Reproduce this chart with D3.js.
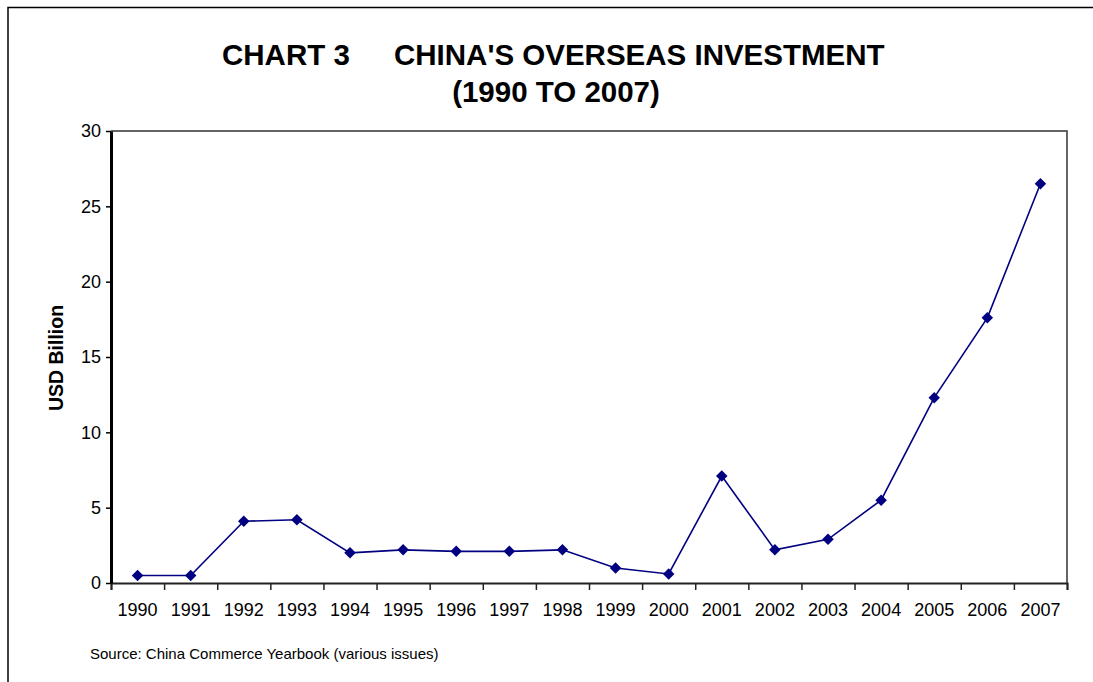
<!DOCTYPE html>
<html>
<head>
<meta charset="utf-8">
<script src="https://cdn.jsdelivr.net/npm/d3@7"></script>
<style>
	body { margin: 0; background: #fff; overflow: hidden; }
	svg { display: block; font-family: "Liberation Sans", Arial, sans-serif; }
</style>
</head>
<body>
<svg id="chart" width="1093" height="682"></svg>
<script>
// data
var years = ["1990", "1991", "1992", "1993", "1994", "1995", "1996", "1997", "1998",
	"1999", "2000", "2001", "2002", "2003", "2004", "2005", "2006", "2007"];
var investment = [0.5, 0.5, 4.1, 4.2, 2.0, 2.2, 2.1, 2.1, 2.2,
	1.0, 0.6, 7.1, 2.2, 2.9, 5.5, 12.3, 17.6, 26.5];
var yTicks = [0, 5, 10, 15, 20, 25, 30];

function drawChart() {
	var svg = d3.select("#chart");
	var plot = {left: 111, top: 131, right: 1067, bottom: 583};

	// outer frame, only top and left show in the picture
	svg.append("path")
		.attr("d", "M8,700V7.5H1100")
		.attr("fill", "none").attr("stroke", "#000").attr("stroke-width", 1.5);

	// title
	var title = svg.append("g").attr("font-weight", "bold").attr("font-size", 29.5).attr("fill", "#000");
	title.append("text").attr("x", 222).attr("y", 65).text("CHART 3");
	title.append("text").attr("x", 394).attr("y", 65).text("CHINA'S OVERSEAS INVESTMENT");
	title.append("text").attr("x", 556).attr("y", 102).attr("text-anchor", "middle").text("(1990 TO 2007)");

	var x = d3.scaleBand().domain(years).range([plot.left, plot.right]).padding(0);
	var xEdge = d3.scaleLinear().domain([0, years.length]).range([plot.left, plot.right]);
	var y = d3.scaleLinear().domain([0, 30]).range([plot.bottom, plot.top]);

	// top and right plot border
	svg.append("path")
		.attr("d", "M" + plot.left + "," + plot.top + "H" + plot.right + "V" + plot.bottom)
		.attr("fill", "none").attr("stroke", "#333").attr("stroke-width", 1.5);

	// x ticks at category edges
	var xTickAxis = svg.append("g")
		.attr("transform", "translate(0," + plot.bottom + ")")
		.call(d3.axisBottom(xEdge).tickValues(d3.range(0, years.length + 1)).tickSize(7).tickFormat(""));
	xTickAxis.select(".domain").attr("stroke", "#222").attr("stroke-width", 2);
	xTickAxis.selectAll(".tick line").attr("stroke", "#222").attr("stroke-width", 1.5);

	// x labels at category centres
	var xLabelAxis = svg.append("g")
		.attr("transform", "translate(0," + plot.bottom + ")")
		.call(d3.axisBottom(x).tickSize(0).tickPadding(20));
	xLabelAxis.select(".domain").remove();
	xLabelAxis.selectAll("text")
		.attr("font-size", 18).attr("fill", "#000")
		.attr("font-family", "Liberation Sans, Arial, sans-serif");

	// y axis
	var yAxis = svg.append("g")
		.attr("transform", "translate(" + plot.left + ",0)")
		.call(d3.axisLeft(y).tickValues(yTicks).tickSize(5).tickPadding(5).tickSizeOuter(0));
	yAxis.select(".domain").attr("stroke", "#000").attr("stroke-width", 3);
	yAxis.selectAll(".tick line").attr("stroke", "#000").attr("stroke-width", 1.5);
	yAxis.selectAll("text")
		.attr("font-size", 18).attr("fill", "#000")
		.attr("font-family", "Liberation Sans, Arial, sans-serif");

	// y axis title
	svg.append("text")
		.attr("transform", "translate(63,358) rotate(-90)")
		.attr("text-anchor", "middle")
		.attr("font-weight", "bold").attr("font-size", 19.5)
		.text("USD Billion");

	// line
	var line = d3.line()
		.x(function (d, i) { return x(years[i]) + x.bandwidth() / 2; })
		.y(function (d) { return y(d); });

	svg.append("path")
		.datum(investment)
		.attr("d", line)
		.attr("fill", "none").attr("stroke", "#000080").attr("stroke-width", 1.6);

	// diamond markers
	svg.selectAll(".marker")
		.data(investment)
		.enter().append("path")
		.attr("class", "marker")
		.attr("d", d3.symbol().type(d3.symbolSquare).size(66))
		.attr("transform", function (d, i) {
			return "translate(" + (x(years[i]) + x.bandwidth() / 2) + "," + y(d) + ") rotate(45)";
		})
		.attr("fill", "#000080");

	// source note
	svg.append("text")
		.attr("x", 90).attr("y", 659)
		.attr("font-size", 15)
		.text("Source: China Commerce Yearbook (various issues)");
}

drawChart();
</script>
</body>
</html>
